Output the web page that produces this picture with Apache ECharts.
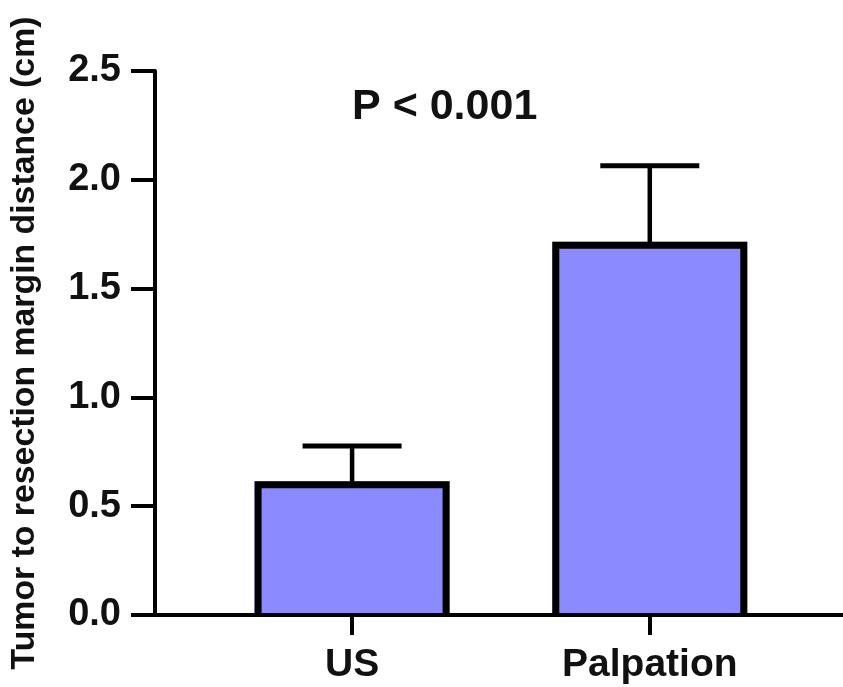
<!DOCTYPE html>
<html>
<head>
<meta charset="utf-8">
<script src="https://cdn.jsdelivr.net/npm/echarts@6/dist/echarts.min.js"></script>
<style>html,body{margin:0;padding:0;background:#fff}#c{width:843px;height:687px}</style>
</head>
<body>
<div id="c"></div>
<script>
var categories = ['US', 'Palpation'];
var positions = [1, 2];
var means = [0.615, 1.715];
var sds = [0.162, 0.350];
var yTicks = [0, 0.5, 1.0, 1.5, 2.0, 2.5];
var yTitle = 'Tumor to resection margin distance (cm)';
var pText = 'P < 0.001';

var FONT = '"Liberation Sans", Arial, sans-serif';
var chart = echarts.init(document.getElementById('c'), null, {renderer: 'canvas'});

var barData = positions.map(function (p, i) { return [p, means[i]]; });
var errData = positions.map(function (p, i) { return [p, means[i], means[i] + sds[i]]; });
var BAR_W = 195, BORDER = 7;

chart.setOption({
  animation: false,
  backgroundColor: '#fff',
  grid: {left: 152, right: 0, top: 71, bottom: 72, containLabel: false},
  xAxis: {
    type: 'value',
    min: 0.338,
    max: 2.649,
    z: 1,
    splitLine: {show: false},
    axisLine: {show: true, lineStyle: {color: '#000', width: 4}},
    axisTick: {show: true, customValues: positions, length: 20, lineStyle: {color: '#000', width: 4}},
    axisLabel: {
      customValues: positions,
      margin: 31,
      color: '#111',
      fontFamily: FONT,
      fontWeight: 'bold',
      fontSize: 39,
      formatter: function (v) { var i = positions.indexOf(Math.round(v)); return i >= 0 ? categories[i] : ''; }
    }
  },
  yAxis: {
    type: 'value',
    min: 0,
    max: 2.5,
    interval: 0.5,
    splitLine: {show: false},
    axisLine: {show: true, lineStyle: {color: '#000', width: 4}},
    axisTick: {show: true, length: 24, lineStyle: {color: '#000', width: 4}},
    axisLabel: {
      margin: 34,
      color: '#111',
      fontFamily: FONT,
      fontWeight: 'bold',
      fontSize: 38,
      formatter: function (v) { return v.toFixed(1); }
    },
    name: yTitle,
    nameLocation: 'middle',
    nameRotate: 90,
    nameGap: 113,
    nameTextStyle: {color: '#111', fontFamily: FONT, fontWeight: 'bold', fontSize: 33.8}
  },
  graphic: [{
    type: 'text',
    left: 352,
    top: 86,
    style: {text: pText, fill: '#111', font: 'bold 43px ' + FONT}
  }],
  series: [
    {
      type: 'bar',
      data: barData,
      barWidth: BAR_W,
      itemStyle: {color: '#8B8BFF', borderWidth: 0},
      z: 0
    },
    {
      type: 'custom',
      data: barData,
      z: 3,
      renderItem: function (params, api) {
        var x = api.value(0);
        var top = api.coord([x, api.value(1)]);
        var base = api.coord([x, 0]);
        var h = BORDER / 2;
        var l = top[0] - BAR_W / 2 + h, r = top[0] + BAR_W / 2 - h, t = top[1] + h;
        return {
          type: 'polyline',
          shape: {points: [[l, base[1]], [l, t], [r, t], [r, base[1]]]},
          style: {stroke: '#000', lineWidth: BORDER, fill: null, lineJoin: 'miter'}
        };
      }
    },
    {
      type: 'custom',
      data: errData,
      z: 3,
      renderItem: function (params, api) {
        var x = api.value(0);
        var top = api.coord([x, api.value(2)]);
        var base = api.coord([x, api.value(1)]);
        var half = 49.5;
        return {
          type: 'group',
          children: [
            {type: 'line', shape: {x1: top[0], y1: top[1], x2: base[0], y2: base[1] + 2}, style: {stroke: '#000', lineWidth: 4.5}},
            {type: 'line', shape: {x1: top[0] - half, y1: top[1], x2: top[0] + half, y2: top[1]}, style: {stroke: '#000', lineWidth: 5}}
          ]
        };
      }
    }
  ]
});
</script>
</body>
</html>
